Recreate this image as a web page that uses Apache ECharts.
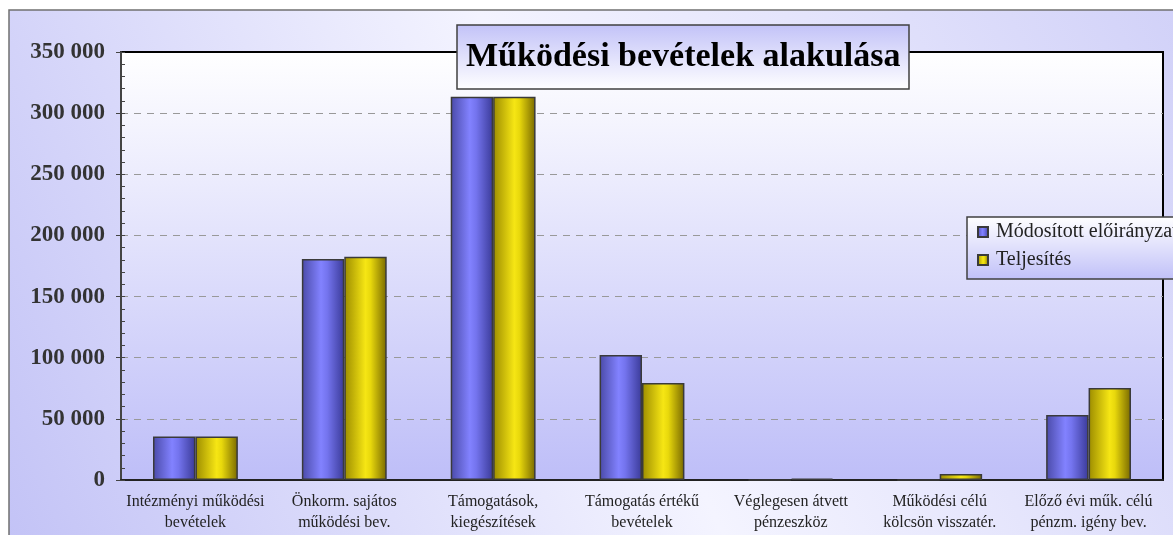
<!DOCTYPE html>
<html>
<head>
<meta charset="utf-8">
<script src="https://cdn.jsdelivr.net/npm/echarts@6/dist/echarts.min.js"></script>
<style>
  html, body { margin: 0; padding: 0; background: #fff; }
  #chart { width: 1173px; height: 535px; }
</style>
</head>
<body>
<div id="chart"></div>
<script>
// adatok
const categories = [
  "Intézményi működési\nbevételek",
  "Önkorm. sajátos\nműködési bev.",
  "Támogatások,\nkiegészítések",
  "Támogatás értékű\nbevételek",
  "Véglegesen átvett\npénzeszköz",
  "Működési célú\nkölcsön visszatér.",
  "Előző évi műk. célú\npénzm. igény bev."
];
const modositott = [35500, 180800, 313500, 102300, 0, 0, 53200];
const teljesites = [35500, 182500, 313500, 79300, 1200, 4900, 75200];
const seriesNames = ["Módosított előirányzat", "Teljesítés"];

const serif = "Liberation Serif";

function hGrad(stops) {
  return new echarts.graphic.LinearGradient(0, 0, 1, 0,
    stops.map(c => ({ offset: c[0], color: c[1] })));
}

const blueFill = hGrad([[0, "#4a4aa8"], [0.45, "#8282ff"], [0.6, "#7474ee"], [1, "#3a3a98"]]);
const yellowFill = hGrad([[0, "#9c8c00"], [0.5, "#f6e614"], [0.62, "#e8d80c"], [1, "#786800"]]);

const chart = echarts.init(document.getElementById("chart"));

chart.setOption({
  animation: false,
  graphic: [{
    type: "rect",
    z: -10,
    shape: { x: 9, y: 10, width: 1200, height: 560 },
    style: {
      fill: new echarts.graphic.LinearGradient(1, 0, 0, 1, [
        { offset: 0, color: "#d0d0f8" },
        { offset: 0.5, color: "#f4f4ff" },
        { offset: 1, color: "#c2c2f6" }
      ]),
      stroke: "#707070",
      lineWidth: 1.5
    }
  }],
  title: {
    text: "Működési bevételek alakulása",
    left: 457,
    top: 25,
    padding: [12, 9, 12, 9],
    backgroundColor: new echarts.graphic.LinearGradient(0, 0, 0, 1, [
      { offset: 0, color: "#c2c2f8" },
      { offset: 1, color: "#ffffff" }
    ]),
    borderColor: "#404040",
    borderWidth: 1.5,
    textStyle: {
      fontFamily: serif,
      fontSize: 34,
      lineHeight: 40,
      fontWeight: "bold",
      color: "#000"
    }
  },
  legend: {
    orient: "vertical",
    left: 967,
    top: 217,
    itemWidth: 10,
    itemHeight: 10,
    itemGap: 8,
    padding: [5, 60, 9, 10],
    backgroundColor: new echarts.graphic.LinearGradient(0, 0, 0, 1, [
      { offset: 0, color: "#ffffff" },
      { offset: 1, color: "#c0c0f8" }
    ]),
    borderColor: "#404040",
    borderWidth: 1.5,
    textStyle: { fontFamily: serif, fontSize: 20, color: "#222", padding: [0, 0, 0, 3] },
    data: seriesNames.map(n => ({ name: n, icon: "rect" }))
  },
  grid: {
    left: 121,
    right: 10,
    top: 52,
    bottom: 55,
    show: true,
    borderColor: "#000",
    borderWidth: 2,
    backgroundColor: new echarts.graphic.LinearGradient(0, 0, 0, 1, [
      { offset: 0, color: "#ffffff" },
      { offset: 1, color: "#bebef8" }
    ])
  },
  xAxis: {
    type: "category",
    data: categories,
    axisLine: { lineStyle: { color: "#222", width: 2 } },
    axisTick: { length: 5, lineStyle: { color: "#333" } },
    axisLabel: {
      interval: 0,
      margin: 11,
      fontFamily: serif,
      fontSize: 16,
      lineHeight: 21,
      color: "#222"
    }
  },
  yAxis: [{
    type: "value",
    min: 0,
    max: 350000,
    interval: 50000,
    axisLine: { show: true, lineStyle: { color: "#444", width: 2 } },
    axisTick: { show: true, length: 5, lineStyle: { color: "#444" } },
    axisLabel: {
      margin: 16,
      fontFamily: serif,
      fontSize: 23,
      fontWeight: "bold",
      color: "#333",
      formatter: v => String(v).replace(/\B(?=(\d{3})+(?!\d))/g, " ")
    },
    splitLine: { showMaxLine: false, lineStyle: { color: "#999", type: [7, 6], width: 1 } }
  }, {
    type: "value",
    position: "left",
    min: 0,
    max: 350000,
    interval: 10000,
    axisLine: { show: false },
    axisTick: { show: true, inside: true, length: 4, lineStyle: { color: "#444" } },
    axisLabel: { show: false },
    splitLine: { show: false }
  }],
  series: [{
    name: seriesNames[0],
    type: "bar",
    data: modositott,
    barGap: "0%",
    barCategoryGap: "43%",
    itemStyle: { color: blueFill, borderColor: "#3a3a3a", borderWidth: 1.5 }
  }, {
    name: seriesNames[1],
    type: "bar",
    data: teljesites,
    itemStyle: { color: yellowFill, borderColor: "#3a3a3a", borderWidth: 1.5 }
  }]
});
</script>
</body>
</html>
